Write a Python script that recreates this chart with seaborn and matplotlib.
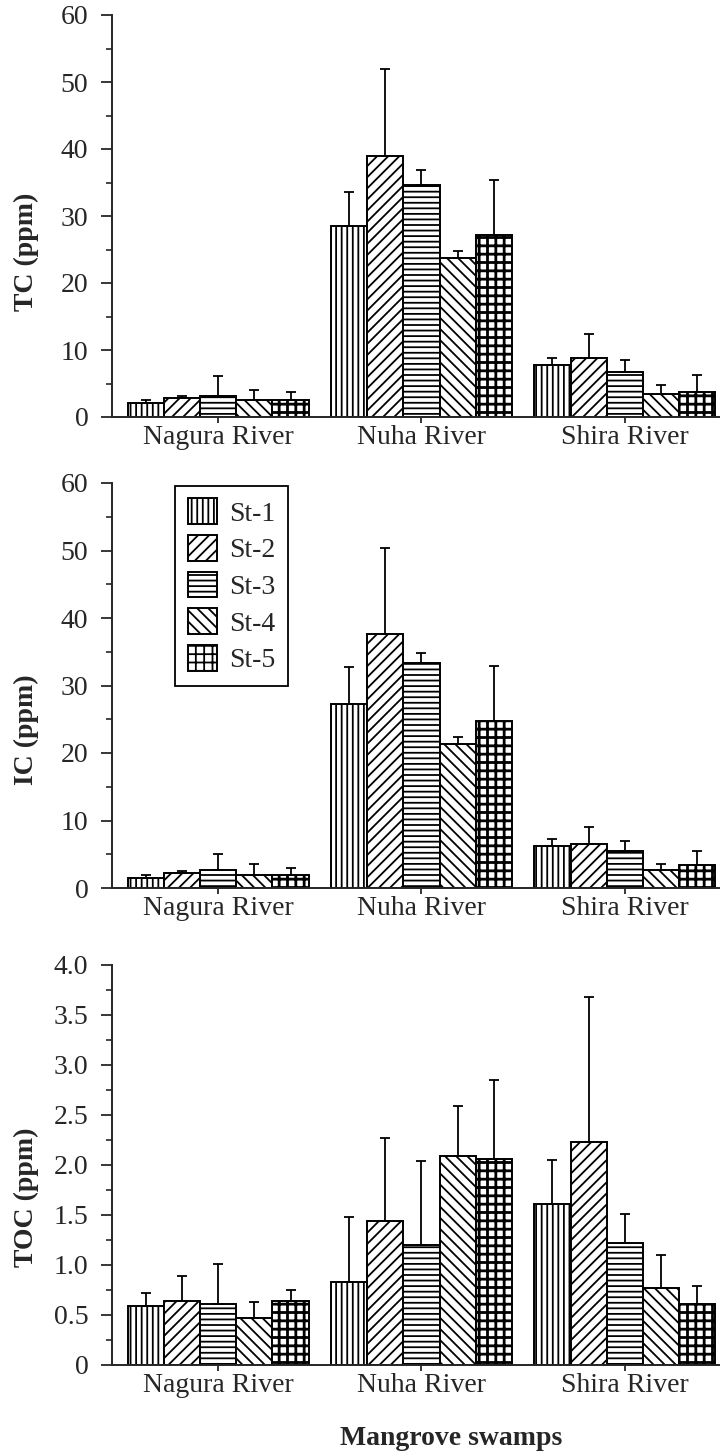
import numpy as np
import pandas as pd
import matplotlib
matplotlib.use("Agg")
import matplotlib.pyplot as plt
from matplotlib.ticker import MultipleLocator, FuncFormatter
import seaborn as sns

# Sampling sites and stations
rivers = ["Nagura River", "Nuha River", "Shira River"]
stations = ["St-1", "St-2", "St-3", "St-4", "St-5"]

# Total carbon (ppm): rows = rivers, columns = stations
tc_mean = [[2.1, 2.8, 3.2, 2.5, 2.6],
           [28.5, 39.0, 34.7, 23.7, 27.2],
           [7.7, 8.8, 6.7, 3.5, 3.8]]
tc_sd = [[0.4, 0.4, 2.9, 1.5, 1.1],
         [5.1, 13.0, 2.1, 1.1, 8.1],
         [1.1, 3.6, 1.8, 1.3, 2.4]]

# Inorganic carbon (ppm)
ic_mean = [[1.5, 2.2, 2.6, 1.9, 1.9],
           [27.3, 37.7, 33.4, 21.3, 24.7],
           [6.2, 6.5, 5.5, 2.6, 3.4]]
ic_sd = [[0.4, 0.3, 2.4, 1.7, 1.1],
         [5.4, 12.7, 1.4, 1.1, 8.2],
         [1.1, 2.5, 1.4, 1.0, 2.1]]

# Total organic carbon (ppm)
toc_mean = [[0.59, 0.64, 0.61, 0.47, 0.64],
            [0.83, 1.44, 1.20, 2.09, 2.06],
            [1.61, 2.23, 1.22, 0.77, 0.61]]
toc_sd = [[0.13, 0.25, 0.40, 0.16, 0.11],
          [0.65, 0.83, 0.84, 0.50, 0.79],
          [0.44, 1.45, 0.29, 0.33, 0.18]]

hatches = ["|||", "///", "---", "\\\\\\", "++"]

sns.set_style("ticks")
plt.rcParams["font.family"] = ["Liberation Serif", "DejaVu Serif"]
plt.rcParams["hatch.linewidth"] = 1.3
plt.rcParams["axes.linewidth"] = 1.4

W, H = 721, 1454
fig = plt.figure(figsize=(W / 100, H / 100), dpi=100)


def frame(means, sds):
    rows = []
    for i, r in enumerate(rivers):
        for j, s in enumerate(stations):
            rows.append({"river": r, "station": s,
                         "value": means[i][j], "sd": sds[i][j]})
    return pd.DataFrame(rows)


def panel(rect, means, sds, ylabel, ymax, major, minor, fmt, label_y,
          legend=False, xlabel=None):
    ax = fig.add_axes(rect)
    df = frame(means, sds)
    sns.barplot(data=df, x="river", y="value", hue="station",
                order=rivers, hue_order=stations,
                palette=["white"] * len(stations), edgecolor="black",
                linewidth=1.4, width=0.89, errorbar=None, legend=False,
                saturation=1, ax=ax)
    bar_groups = list(ax.containers)
    for k, cont in enumerate(bar_groups):
        xs, ys, es = [], [], []
        for i, bar in enumerate(cont.patches):
            bar.set_hatch(hatches[k])
            if k == 4 and hasattr(bar, "set_hatch_linewidth"):
                bar.set_hatch_linewidth(2.0)
            xs.append(bar.get_x() + bar.get_width() / 2)
            ys.append(bar.get_height())
            es.append(sds[i][k])
        ax.errorbar(xs, ys, yerr=[np.zeros(len(es)), es], fmt="none",
                    ecolor="black", elinewidth=1.3, capsize=3.6,
                    capthick=1.3, zorder=3)
    ax.set_xlim(-0.522, 2.463)
    ax.set_ylim(0, ymax)
    ax.yaxis.set_major_locator(MultipleLocator(major))
    ax.yaxis.set_minor_locator(MultipleLocator(minor))
    ax.yaxis.set_major_formatter(FuncFormatter(fmt))
    ax.tick_params(axis="y", which="major", length=8, width=1.3,
                   labelsize=20, pad=9)
    ax.tick_params(axis="y", which="minor", length=4, width=1.2)
    ax.tick_params(axis="x", which="major", length=4, width=1.3,
                   labelsize=20, pad=2)
    sns.despine(ax=ax)
    ax.set_ylabel(ylabel, fontsize=20, fontweight="bold")
    ax.yaxis.set_label_coords(-0.12, label_y)
    if xlabel:
        ax.set_xlabel(xlabel, fontsize=20, fontweight="bold")
        ax.xaxis.set_label_coords(0.558, -0.152)
    else:
        ax.set_xlabel("")
    if legend:
        handles = [cont.patches[0] for cont in bar_groups]
        leg = ax.legend(handles, stations, loc="upper left",
                        bbox_to_anchor=(0.104, 0.993), borderaxespad=0,
                        fontsize=20, frameon=True, fancybox=False,
                        edgecolor="black", framealpha=1,
                        handlelength=1.05, handleheight=1.05,
                        handletextpad=0.45, labelspacing=0.3,
                        borderpad=0.45)
        leg.get_frame().set_linewidth(1.3)
    return ax


def int_fmt(v, _):
    return f"{v:.0f}"


def dec_fmt(v, _):
    return "0" if abs(v) < 1e-9 else f"{v:.1f}"


left, width = 112 / W, 607 / W
panel([left, 1 - 417 / H, width, 402 / H], tc_mean, tc_sd, "TC (ppm)",
      60, 10, 5, int_fmt, 0.41)
panel([left, 1 - 888 / H, width, 405 / H], ic_mean, ic_sd, "IC (ppm)",
      60, 10, 5, int_fmt, 0.39, legend=True)
panel([left, 1 - 1365 / H, width, 400 / H], toc_mean, toc_sd, "TOC (ppm)",
      4.0, 0.5, 0.25, dec_fmt, 0.42, xlabel="Mangrove swamps")

fig.savefig("out.png", dpi=100, facecolor="white")
